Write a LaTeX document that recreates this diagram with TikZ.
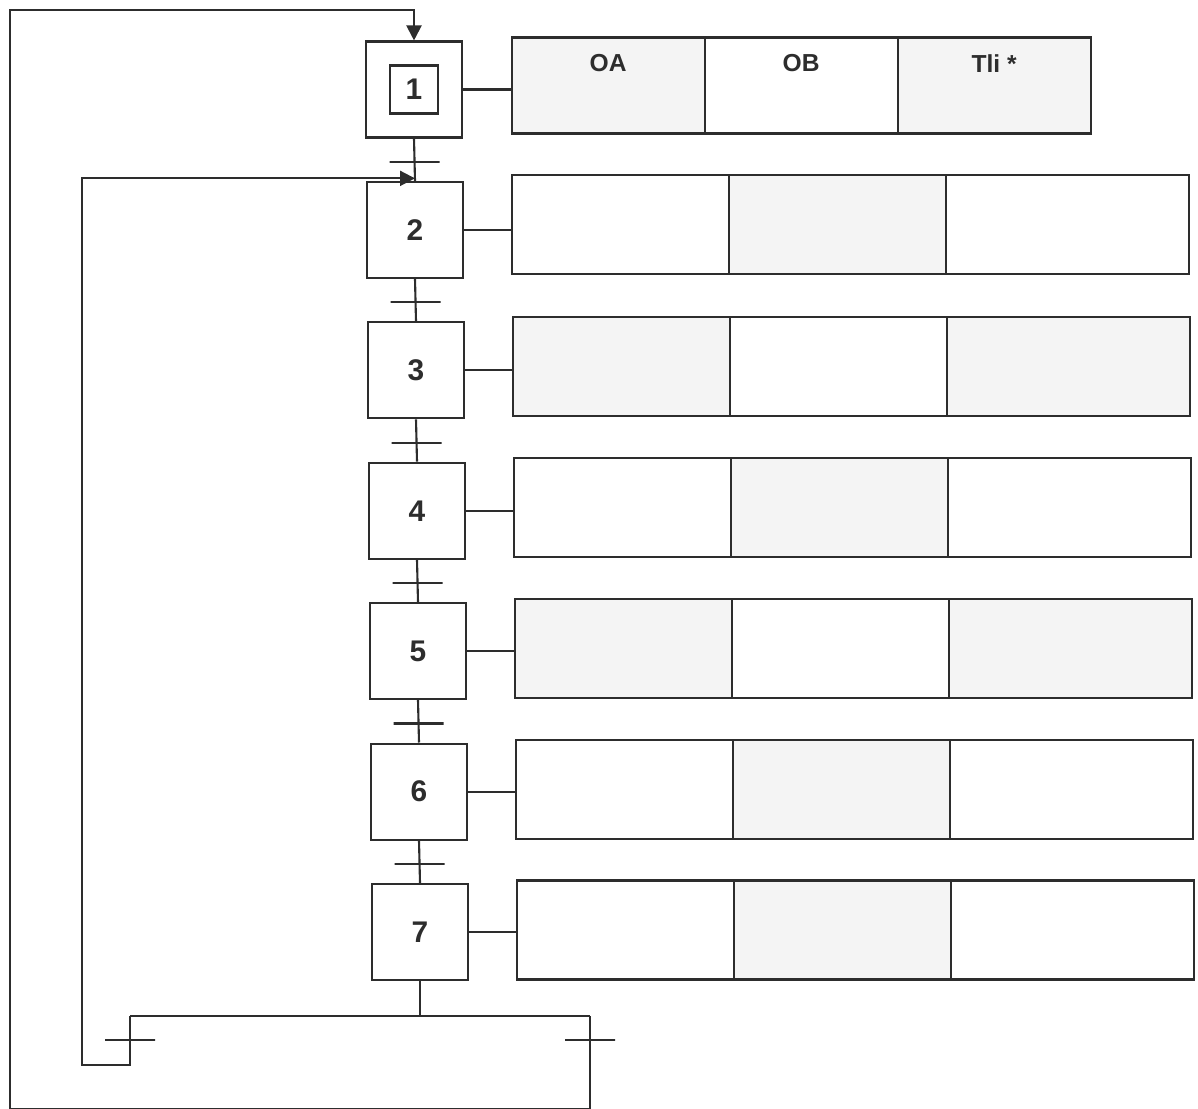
\documentclass[tikz,border=0pt]{standalone}
\usepackage{fontspec}
\setmainfont{Liberation Sans}
\usetikzlibrary{positioning,arrows.meta}
\definecolor{lnk}{RGB}{45,45,45}
\definecolor{shd}{RGB}{244,244,244}
\tikzset{
  ln/.style={draw=lnk, line width=1.2pt},
  st/.style={ln, minimum size=1.92cm, inner sep=0pt, text=lnk,
             font=\fontsize{17}{17}\selectfont\bfseries},
  sti/.style={st, minimum size=0.96cm},
  ac/.style={ln, minimum width=4.34cm, minimum height=1.98cm,
             inner sep=0pt, outer sep=0pt},
  acw/.style={ac, minimum width=4.86cm},
  ah/.style={ac, minimum width=3.86cm, minimum height=1.92cm},
  shd/.style={fill=shd},
  hd/.style={text=lnk, font=\fontsize{14}{14}\selectfont\bfseries},
  tk/.style={ln, minimum width=1cm, minimum height=0pt, inner sep=0pt, outer sep=0pt},
  fa/.style={ln, -{Triangle[length=3mm, width=3mm]}}
}
\begin{document}
\begin{tikzpicture}[node distance=0.846cm]
  \useasboundingbox (0,0) rectangle (23.96,-22.16);
  % steps
  \node[st] (s1) at (8.28,-1.79) {};
  \node[sti] (s1i) at (s1) {1};
  \node[st, below=of s1, xshift=0.02cm] (s2) {2};
  \node[st, below=of s2, xshift=0.02cm] (s3) {3};
  \node[st, below=of s3, xshift=0.02cm] (s4) {4};
  \node[st, below=of s4, xshift=0.02cm] (s5) {5};
  \node[st, below=of s5, xshift=0.02cm] (s6) {6};
  \node[st, below=of s6, xshift=0.02cm] (s7) {7};
  % action tables
  \node[ah, shd, right=0.97cm of s1, yshift=0.08cm] (c11) {};
  \node[ah, right=0pt of c11] (c12) {};
  \node[ah, shd, right=0pt of c12] (c13) {};
  \node[hd] at ([yshift=-0.52cm]c11.north) {OA};
  \node[hd] at ([yshift=-0.52cm]c12.north) {OB};
  \node[hd] at ([yshift=-0.52cm]c13.north) {Tli *};
  \node[ac, right=0.96cm of s2, yshift=0.1cm] (c21) {};
  \node[ac, shd, right=0pt of c21] (c22) {};
  \node[acw, right=0pt of c22] (c23) {};
  \node[ac, shd, right=0.96cm of s3, yshift=0.08cm] (c31) {};
  \node[ac, right=0pt of c31] (c32) {};
  \node[acw, shd, right=0pt of c32] (c33) {};
  \node[ac, right=0.96cm of s4, yshift=0.06cm] (c41) {};
  \node[ac, shd, right=0pt of c41] (c42) {};
  \node[acw, right=0pt of c42] (c43) {};
  \node[ac, shd, right=0.96cm of s5, yshift=0.05cm] (c51) {};
  \node[ac, right=0pt of c51] (c52) {};
  \node[acw, shd, right=0pt of c52] (c53) {};
  \node[ac, right=0.96cm of s6, yshift=0.05cm] (c61) {};
  \node[ac, shd, right=0pt of c61] (c62) {};
  \node[acw, right=0pt of c62] (c63) {};
  \node[ac, right=0.96cm of s7, yshift=0.04cm] (c71) {};
  \node[ac, shd, right=0pt of c71] (c72) {};
  \node[acw, right=0pt of c72] (c73) {};
  \draw[ln] (s1.east)--(s1.east -| c11.west); \draw[ln] (s2.east)--(s2.east -| c21.west);
  \draw[ln] (s3.east)--(s3.east -| c31.west); \draw[ln] (s4.east)--(s4.east -| c41.west);
  \draw[ln] (s5.east)--(s5.east -| c51.west); \draw[ln] (s6.east)--(s6.east -| c61.west);
  \draw[ln] (s7.east)--(s7.east -| c71.west);
  % links and transitions
  \draw[ln] (s1.south) -- node[tk, pos=0.55]{} (s2.north);
  \draw[ln] (s2.south) -- node[tk, pos=0.55]{} (s3.north);
  \draw[ln] (s3.south) -- node[tk, pos=0.55]{} (s4.north);
  \draw[ln] (s4.south) -- node[tk, pos=0.55]{} (s5.north);
  \draw[ln] (s5.south) -- node[tk, pos=0.55]{} (s6.north);
  \draw[ln] (s6.south) -- node[tk, pos=0.55]{} (s7.north);
  % choice after step 7
  \coordinate (dl) at (2.6,-20.32);
  \coordinate (dr) at (11.8,-20.32);
  \coordinate (tl) at (0.2,-0.2);
  \draw[ln] (s7.south) -- (s7.south |- dl);
  \draw[ln] (dl) -- (dr);
  \draw[fa] (dl) -- node[tk, pos=0.49]{} ++(0,-0.98) -- ++(-0.96,0) |- ([yshift=0.05cm]s2.north);
  \draw[fa] (dr) -- node[tk, pos=0.26]{} ++(0,-1.855) -| (tl) -| (s1.north);
\end{tikzpicture}
\end{document}
